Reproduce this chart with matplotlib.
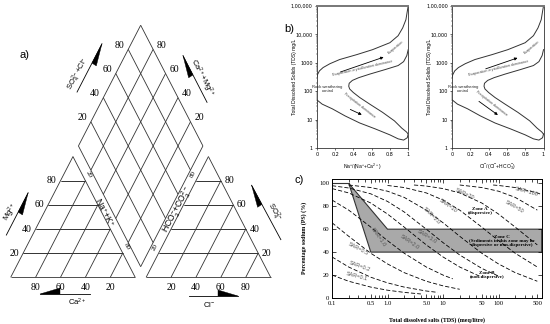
import numpy as np
import matplotlib.pyplot as plt
from matplotlib.patches import Polygon
from matplotlib.ticker import FixedLocator, FixedFormatter, NullFormatter

plt.rcParams['mathtext.fontset'] = 'custom'
plt.rcParams['mathtext.rm'] = 'Liberation Sans'
plt.rcParams['mathtext.it'] = 'Liberation Sans:italic'
plt.rcParams['mathtext.bf'] = 'Liberation Sans:bold'

# ---------------- a) Piper diagram ----------------
piper_pct = [20, 40, 60, 80]
piper_edge_pct = [20, 80]          # only these are printed on the inner edges

# ---------------- b) Gibbs diagrams ----------------
gibbs_xticks = [0, 0.2, 0.4, 0.6, 0.8, 1]
gibbs_yticks = [1, 10, 100, 1000, 10000, 100000]
gibbs_ylabels = ['1', '10', '100', '1000', '10,000', '1,00,000']

outer_top_x = [1.0, 0.99, 0.975, 0.94, 0.89, 0.80, 0.61, 0.44, 0.25, 0.145, 0.07, 0.03, 0.008, 0.0]
outer_top_tds = [100000, 65000, 33000, 17000, 9000, 5100, 2900, 1950, 1300, 930, 680, 520, 380, 290]
outer_low_x = [0.0, 0.06, 0.17, 0.31, 0.47, 0.64, 0.80, 0.89, 0.95, 0.99, 1.0]
outer_low_tds = [50, 35, 24, 13.5, 7.6, 4.7, 2.9, 2.1, 1.9, 2.3, 3.1]
inner_x = [1.0, 0.985, 0.95, 0.89, 0.75, 0.58, 0.46, 0.39, 0.355, 0.35, 0.36, 0.40, 0.47,
           0.58, 0.72, 0.85, 0.93, 0.98, 1.0]
inner_tds = [2900, 1800, 1100, 800, 580, 400, 300, 240, 190, 150, 120, 90, 60,
             35, 18, 9, 5, 3.7, 3.1]

# ---------------- c) PS vs TDS ----------------
tds_ticks = [0.1, 0.5, 1, 5, 10, 50, 100, 500]
tds_ticklabels = ['0.1', '0.5', '1.0', '5.0', '10', '50', '100', '500']
ps_ticks = [0, 20, 40, 60, 80, 100]

sar_names = ['0.1', '0.2', '0.5', '1.0', '2.0', '3.0', '5.0', '10', '20', '50', '100']
sar_tds = [
    [0.1, 0.2, 0.5, 1, 2, 4],
    [0.1, 0.2, 0.5, 1, 2, 5, 8],
    [0.1, 0.2, 0.5, 1, 2, 5, 10, 20],
    [0.1, 0.2, 0.5, 1, 2, 5, 10, 15],
    [0.1, 0.2, 0.5, 1, 2, 5, 10, 20, 50],
    [0.1, 0.2, 0.5, 1, 2, 5, 10, 20, 50, 100],
    [0.2, 0.5, 1, 2, 5, 10, 20, 50, 100, 200, 500],
    [1, 2, 5, 10, 20, 50, 100, 200, 500],
    [3, 5, 10, 20, 50, 100, 200, 500],
    [20, 50, 100, 200, 500],
    [80, 100, 200, 500, 600],
]
sar_ps = [
    [20.0, 14.6, 9.5, 6.8, 4.9, 3.5],
    [35.8, 27.0, 18.1, 13.2, 9.5, 6.1, 4.9],
    [65.6, 53.8, 39.0, 29.7, 22.1, 14.6, 10.6, 7.6],
    [85.4, 76.6, 61.8, 50.0, 39.0, 27.0, 20.0, 16.7],
    [95.4, 91.6, 82.8, 73.2, 61.8, 46.3, 35.8, 27.0, 18.1],
    [97.9, 95.9, 90.8, 84.2, 75.0, 60.0, 48.3, 37.5, 25.8, 19.1],
    [98.5, 96.3, 93.1, 87.7, 76.6, 65.6, 53.8, 39.0, 29.7, 22.1, 14.6],
    [98.1, 96.3, 91.6, 85.4, 76.6, 61.8, 50.0, 39.0, 27.0],
    [98.5, 97.6, 95.4, 91.6, 82.8, 73.2, 61.8, 46.3],
    [98.5, 96.3, 93.1, 87.7, 76.6],
    [98.5, 98.1, 96.3, 91.6, 90.2],
]
sar_label_tds = [0.28, 0.32, 0.30, 0.68, 2.5, 5.2, 6.2, 12.4, 25, 198, 322]
sar_label_ps = [19.2, 27.9, 42.5, 53.2, 48.8, 53.2, 72.1, 80.8, 90.9, 79.3, 92.4]
sar_label_rot = [-15, -20, -28, -55, -35, -32, -45, -35, -25, -30, -15]

zone_c_tds = [0.2, 0.5, 600, 600, 1.0, 0.2]
zone_c_ps = [100, 40, 40, 60, 60, 100]

fig = plt.figure(figsize=(5.5, 3.24), dpi=100)

# ================= Piper =================
G = 0.088
H = np.sqrt(3) / 2
ax = fig.add_axes([0, 0, 285 / 550, 1])
ax.set_xlim(-10.7 / 124.5, (285 - 10.7) / 124.5)
ax.set_ylim((277.3 - 324) / 139.4, 277.3 / 139.4)
ax.axis('off')
lc = '#333333'
serif = 'Liberation Serif'
sans = 'Liberation Sans'


def tri_pt(x0, b, c):
    return x0 + b + c / 2, c * H


def seg(p, q, lw=0.6):
    ax.plot([p[0], q[0]], [p[1], q[1]], color=lc, lw=lw, solid_capstyle='butt')


for x0 in (0, 1 + G):
    seg(tri_pt(x0, 0, 0), tri_pt(x0, 1, 0))
    seg(tri_pt(x0, 1, 0), tri_pt(x0, 0, 1))
    seg(tri_pt(x0, 0, 1), tri_pt(x0, 0, 0))
    for p in piper_pct:
        f = p / 100
        seg(tri_pt(x0, 0, f), tri_pt(x0, 1 - f, f))
        seg(tri_pt(x0, f, 0), tri_pt(x0, f, 1 - f))
        seg(tri_pt(x0, 0, 1 - f), tri_pt(x0, f, 1 - f))

B = np.array([1 + G / 2, G * H])


def dia(u, v):
    return B[0] - 0.5 * u + 0.5 * v, B[1] + H * (u + v)


seg(dia(0, 0), dia(1, 0))
seg(dia(1, 0), dia(1, 1))
seg(dia(1, 1), dia(0, 1))
seg(dia(0, 1), dia(0, 0))
for p in piper_pct:
    f = p / 100
    seg(dia(f, 0), dia(f, 1))
    seg(dia(0, f), dia(1, f))

for p in piper_pct:
    f = p / 100
    # left triangle: Mg (left), Ca (bottom)
    x, y = tri_pt(0, 0, f)
    ax.text(x - 0.03, y, str(p), ha='right', va='center', fontsize=7, family=serif)
    ax.text(1 - f, -0.07, str(p), ha='center', va='center', fontsize=7, family=serif)
    # right triangle: SO4 (right), Cl (bottom)
    x, y = tri_pt(1 + G, 1 - f, f)
    ax.text(x + 0.03, y, str(p), ha='left', va='center', fontsize=7, family=serif)
    ax.text(1 + G + f, -0.07, str(p), ha='center', va='center', fontsize=7, family=serif)
    # diamond upper edges
    x, y = dia(1, f)
    ax.text(x - 0.03, y + 0.03, str(p), ha='right', va='center', fontsize=7, family=serif)
    x, y = dia(f, 1)
    ax.text(x + 0.03, y + 0.03, str(p), ha='left', va='center', fontsize=7, family=serif)

for p in piper_edge_pct:
    f = p / 100
    ax.text(0.5 + 0.5 * f + 0.03, H * (1 - f) + 0.045, str(p), rotation=-62,
            ha='center', va='center', fontsize=5, family=serif)
    ax.text(1 + G + 0.5 * f - 0.025, H * f + 0.045, str(p), rotation=62,
            ha='center', va='center', fontsize=5, family=serif)


def half_arrow(p0, p1, side, length=0.16, width=0.04):
    p0, p1 = np.array(p0), np.array(p1)
    ax.plot([p0[0], p1[0]], [p0[1], p1[1]], color='k', lw=0.6)
    u = (p1 - p0) / np.hypot(*(p1 - p0))
    n = np.array([-u[1], u[0]]) * side
    back = p1 - u * length
    ax.add_patch(Polygon([p1, back, back + n * width], closed=True, fc='k', ec='k', lw=0.3))


half_arrow((0.637, -0.12), (0.235, -0.12), -1)
half_arrow((1.432, -0.134), (1.826, -0.134), 1)
half_arrow((-0.035, 0.303), (0.14, 0.606), -1)
half_arrow((2.17, 0.27), (1.935, 0.66), 1)
half_arrow((0.533, 1.329), (0.733, 1.675), -1)
half_arrow((1.577, 1.255), (1.384, 1.59), 1)

ax.text(0.533, -0.178, 'Ca$^{2+}$', ha='center', va='center', fontsize=5.5, family=sans)
ax.text(1.593, -0.192, 'Cl$^{-}$', ha='center', va='center', fontsize=5.5, family=sans)
ax.text(0.0, 0.465, 'Mg$^{2+}$', rotation=60, ha='center', va='center', fontsize=5.5, family=sans)
ax.text(2.11, 0.47, 'SO$_4^{2-}$', rotation=-60, ha='center', va='center', fontsize=5.5, family=sans)
ax.text(0.755, 0.47, 'Na$^{+}$+K$^{+}$', rotation=-62, ha='center', va='center', fontsize=6.3, family=sans)
ax.text(1.345, 0.48, 'HCO$_3^{-}$+CO$_3^{2-}$', rotation=62, ha='center', va='center', fontsize=6.3, family=sans)
ax.text(0.545, 1.46, 'SO$_4^{2-}$+Cl$^{-}$', rotation=62, ha='center', va='center', fontsize=5.5, family=sans)
ax.text(1.53, 1.43, 'Ca$^{2+}$+Mg$^{2+}$', rotation=-62, ha='center', va='center', fontsize=5.5, family=sans)

fig.text(25 / 550, 1 - 55 / 324, 'a)', fontsize=8, family=sans, ha='center', va='center')
fig.text(289 / 550, 1 - 29 / 324, 'b)', fontsize=8, family=sans, ha='center', va='center')
fig.text(299 / 550, 1 - 180 / 324, 'c)', fontsize=8, family=sans, ha='center', va='center')

# ================= Gibbs =================
gibbs_panels = [
    (316.7, 'Na$^{+}$/(Na$^{+}$+Ca$^{2+}$)', [(0.23, 440), (0.76, 1700)], (0.50, 650),
     [(0.34, 25), (0.52, 13.5)], (0.465, 33)),
    (452.0, 'Cl$^{-}$/(Cl$^{-}$+HCO$_3^{-}$)', [(0.34, 570), (0.745, 1600)], (0.51, 650),
     [(0.27, 50), (0.526, 12.7)], (0.43, 38)),
]
for left, xlab, up_arrow, up_txt, low_arrow, low_txt in gibbs_panels:
    gx = fig.add_axes([left / 550, (324 - 148) / 324, 91.5 / 550, 142 / 324])
    gx.plot(outer_top_x, outer_top_tds, color=lc, lw=0.7)
    gx.plot(outer_low_x, outer_low_tds, color=lc, lw=0.7)
    gx.plot(inner_x, inner_tds, color=lc, lw=0.7)
    gx.set_yscale('log')
    gx.set_xlim(0, 1)
    gx.set_ylim(1, 100000)
    gx.yaxis.set_major_locator(FixedLocator(gibbs_yticks))
    gx.yaxis.set_major_formatter(FixedFormatter(gibbs_ylabels))
    gx.yaxis.set_minor_formatter(NullFormatter())
    gx.set_xticks(gibbs_xticks)
    gx.set_xticklabels(['0', '0.2', '0.4', '0.6', '0.8', '1'])
    gx.tick_params(labelsize=3.5, length=1.5, width=0.4, pad=1.5, direction='out')
    gx.tick_params(which='minor', length=0.8, width=0.3)
    for s in gx.spines.values():
        s.set_linewidth(0.6)
        s.set_color('#333333')
    gx.spines['top'].set_linewidth(1.4)
    gx.spines['top'].set_color('#777777')
    gx.set_ylabel('Total Dissolved Solids (TDS) mg/L', fontsize=3.6, family=sans)
    gx.yaxis.set_label_coords(-0.215, 0.5)
    gx.set_xlabel(xlab, fontsize=3.6, family=sans)
    gx.xaxis.set_label_coords(0.5, -0.1)
    gx.annotate('', xy=up_arrow[1], xytext=up_arrow[0],
                arrowprops=dict(arrowstyle='-|>', lw=0.6, color='k', mutation_scale=4))
    gx.annotate('', xy=low_arrow[1], xytext=low_arrow[0],
                arrowprops=dict(arrowstyle='-|>', lw=0.6, color='k', mutation_scale=4))
    gx.text(*up_txt, 'Evaporation-crystallization dominance', rotation=13, fontsize=2.6,
            ha='center', va='center', color='#444444', family=sans)
    gx.text(*low_txt, 'Precipitation dominance', rotation=-38, fontsize=2.6,
            ha='center', va='center', color='#444444', family=sans)
    gx.text(0.12, 120, 'Rock weathering\ncontrol', fontsize=3, ha='center', va='center',
            color='#222222', family=sans, linespacing=1.0)
    gx.text(0.87, 3500, 'Evaporation', rotation=40, fontsize=2.6, ha='center', va='center',
            color='#444444', family=sans)

# ================= c) =================
cx = fig.add_axes([332 / 550, (324 - 298) / 324, 209.7 / 550, 119.3 / 324])
cx.set_xscale('log')
cx.set_xlim(0.1, 600)
cx.set_ylim(0, 104)
cx.add_patch(Polygon(list(zip(zone_c_tds, zone_c_ps)), closed=True, fc='#a9a9a9', ec='#333333', lw=0.8))
cx.plot([0.1, 0.2], [100, 100], color='#333333', lw=0.8)
for t, p in zip(sar_tds, sar_ps):
    cx.plot(t, p, color='k', lw=0.6, ls=(0, (5, 2.5)))
for name, lt, lp, rot in zip(sar_names, sar_label_tds, sar_label_ps, sar_label_rot):
    cx.text(lt, lp, 'SAR=' + name, rotation=rot, fontsize=4, color='#555555',
            ha='center', va='center', family=sans)
cx.text(46.5, 75.9, 'Zone A\n(dispersive)', fontsize=3.6, ha='center', va='center',
        family=serif, weight='bold', linespacing=1.0)
cx.text(115, 49.7, 'Zone C\n(Sediments in this zone may be\ndispersive or non-dispersive)',
        fontsize=3.6, ha='center', va='center', family=serif, weight='bold', linespacing=1.0)
cx.text(62, 20, 'Zone B\n(non-dispersive)', fontsize=3.6, ha='center', va='center',
        family=serif, weight='bold', linespacing=1.0)
cx.xaxis.set_major_locator(FixedLocator(tds_ticks))
cx.xaxis.set_major_formatter(FixedFormatter(tds_ticklabels))
cx.xaxis.set_minor_formatter(NullFormatter())
cx.set_yticks(ps_ticks)
cx.tick_params(which='both', direction='in', top=True, right=True, labelsize=4.8,
               width=0.5, pad=2)
cx.tick_params(which='major', length=3)
cx.tick_params(which='minor', length=2)
for lab in cx.get_xticklabels() + cx.get_yticklabels():
    lab.set_family(serif)
for s in cx.spines.values():
    s.set_linewidth(0.7)
cx.set_ylabel('Percentage sodium (PS) (%)', fontsize=4.3, family=serif, weight='bold')
cx.yaxis.set_label_coords(-0.12, 0.5)
cx.set_xlabel('Total dissolved salts (TDS) (meq/litre)', fontsize=4.3, family=serif, weight='bold')
cx.xaxis.set_label_coords(0.5, -0.16)

fig.savefig('out.png', dpi=100)
